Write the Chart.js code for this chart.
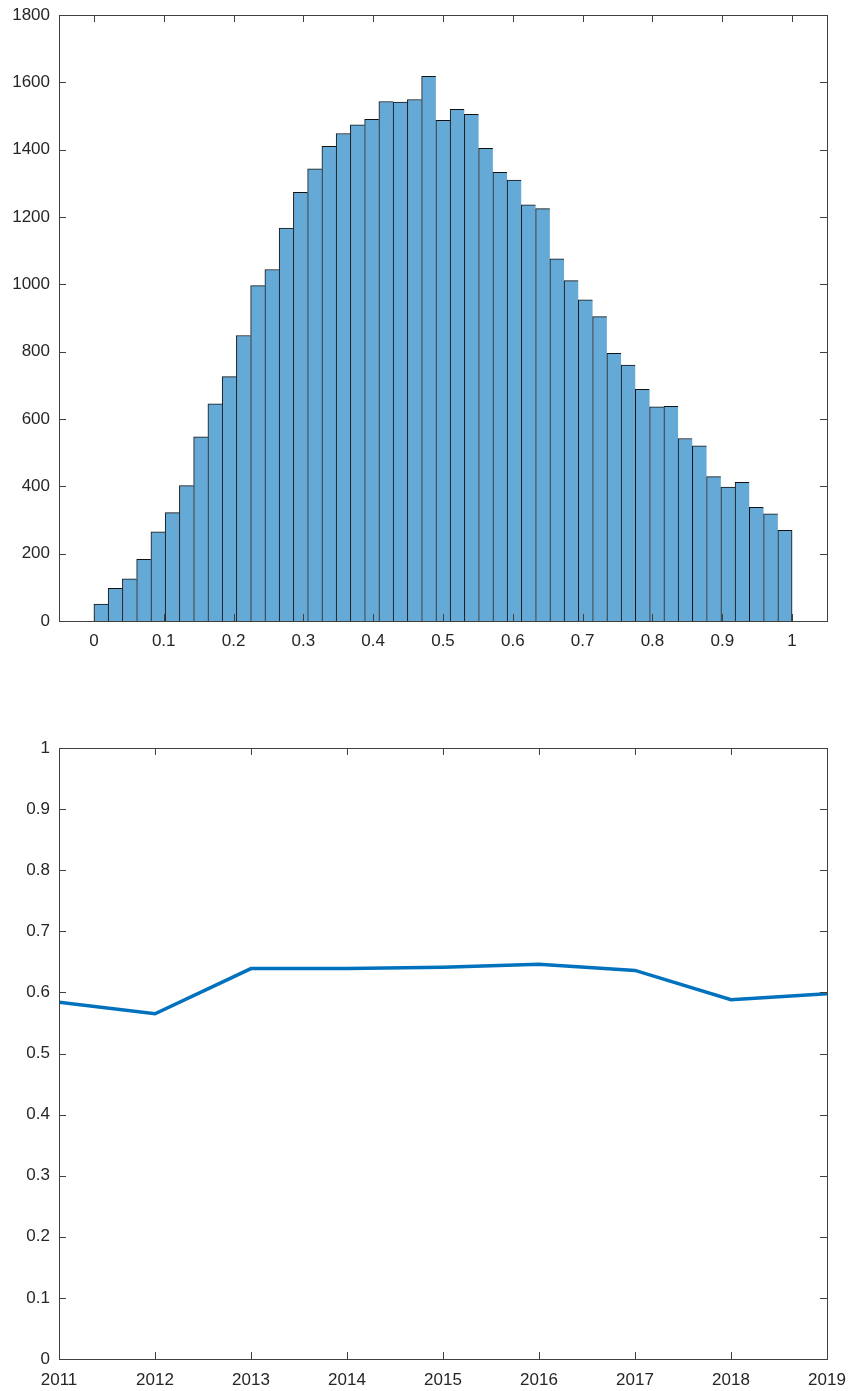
<!DOCTYPE html>
<html>
<head>
<meta charset="utf-8">
<script src="https://cdn.jsdelivr.net/npm/chart.js@4"></script>
<style>
  html, body { margin: 0; padding: 0; background: #fff; }
  .wrap { position: absolute; left: 0; width: 851px; }
  #histWrap { top: 0; height: 690px; }
  #lineWrap { top: 700px; height: 691px; }
</style>
</head>
<body>
<div class="wrap" id="histWrap"><canvas id="histChart"></canvas></div>
<div class="wrap" id="lineWrap"><canvas id="lineChart"></canvas></div>
<script>
// histogram: 49 equal bins between 0 and 1
const histRange = [0, 1];
const histCounts = [
  50, 97, 125, 183, 265, 322, 402, 547, 645, 726,
  848, 996, 1044, 1167, 1273, 1343, 1410, 1448, 1474, 1490,
  1543, 1541, 1549, 1618, 1487, 1520, 1505, 1404, 1333, 1310,
  1236, 1225, 1076, 1011, 954, 904, 795, 760, 688, 636,
  638, 542, 520, 429, 398, 412, 338, 318, 269
];
const histXTicks = [0, 0.1, 0.2, 0.3, 0.4, 0.5, 0.6, 0.7, 0.8, 0.9, 1];
const histYTicks = [0, 200, 400, 600, 800, 1000, 1200, 1400, 1600, 1800];

// yearly series
const years = [2011, 2012, 2013, 2014, 2015, 2016, 2017, 2018, 2019];
const yearValues = [0.584, 0.565, 0.639, 0.639, 0.641, 0.646, 0.636, 0.588, 0.598];
const lineYTicks = [0, 0.1, 0.2, 0.3, 0.4, 0.5, 0.6, 0.7, 0.8, 0.9, 1];

const TEXT = '#262626';
const AXIS = '#404040';
Chart.defaults.font.family = '"Liberation Sans", Arial, Helvetica, sans-serif';
Chart.defaults.font.size = 17;
Chart.defaults.color = TEXT;

// matlab style box with inward ticks on all four sides
const boxPlugin = {
  id: 'box',
  afterDatasetsDraw(chart) {
    const { ctx, chartArea: a, scales } = chart;
    const len = 7;
    ctx.save();
    ctx.strokeStyle = AXIS;
    ctx.lineWidth = 1;
    ctx.beginPath();
    scales.x.ticks.forEach(t => {
      const px = Math.round(scales.x.getPixelForValue(t.value)) + 0.5;
      ctx.moveTo(px, a.bottom); ctx.lineTo(px, a.bottom - len);
      ctx.moveTo(px, a.top);    ctx.lineTo(px, a.top + len);
    });
    scales.y.ticks.forEach(t => {
      const py = Math.round(scales.y.getPixelForValue(t.value)) + 0.5;
      ctx.moveTo(a.left, py);  ctx.lineTo(a.left + len, py);
      ctx.moveTo(a.right, py); ctx.lineTo(a.right - len, py);
    });
    ctx.stroke();
    ctx.strokeRect(Math.round(a.left) + 0.5, Math.round(a.top) + 0.5,
                   Math.round(a.right - a.left), Math.round(a.bottom - a.top));
    ctx.restore();
  }
};

const fixTicks = vals => scale => { scale.ticks = vals.map(v => ({ value: v })); };
const fitX = h => s => { s.height = h; s.paddingLeft = 0; s.paddingRight = 0; };
const fitY = w => s => { s.width = w; s.paddingTop = 0; s.paddingBottom = 0; };
const noGrid = { display: false, drawTicks: false, tickLength: 0 };

// ── Histogram ─────────────────────────────────────────
const binW = (histRange[1] - histRange[0]) / histCounts.length;
new Chart(document.getElementById('histChart'), {
  type: 'bar',
  data: {
    datasets: [{
      data: histCounts.map((c, i) => ({ x: histRange[0] + (i + 0.5) * binW, y: c })),
      backgroundColor: 'rgb(101,169,215)',
      borderColor: '#111',
      borderWidth: ctx => ({ left: 1, top: 1, right: ctx.dataIndex === histCounts.length - 1 ? 1 : 0, bottom: 0 }),
      borderSkipped: false,
      barPercentage: 1,
      categoryPercentage: 1,
    }],
  },
  options: {
    responsive: true, maintainAspectRatio: false, animation: false,
    layout: { padding: { top: 15, right: 24, left: 0, bottom: 0 } },
    plugins: { legend: { display: false }, tooltip: { enabled: false } },
    scales: {
      x: {
        type: 'linear', min: -0.05, max: 1.05, offset: false,
        grid: noGrid, border: { display: false },
        afterBuildTicks: fixTicks(histXTicks),
        afterFit: fitX(69),
        ticks: { padding: 10, maxRotation: 0, autoSkip: false, callback: v => String(v) },
      },
      y: {
        min: 0, max: 1800,
        grid: noGrid, border: { display: false },
        afterBuildTicks: fixTicks(histYTicks),
        afterFit: fitY(59),
        ticks: { padding: 9, callback: v => String(v) },
      },
    },
  },
  plugins: [boxPlugin],
});

// ── Yearly line ───────────────────────────────────────
new Chart(document.getElementById('lineChart'), {
  type: 'line',
  data: {
    datasets: [{
      data: years.map((y, i) => ({ x: y, y: yearValues[i] })),
      borderColor: '#0072BD',
      borderWidth: 3.5,
      pointRadius: 0,
      tension: 0,
      fill: false,
    }],
  },
  options: {
    responsive: true, maintainAspectRatio: false, animation: false,
    layout: { padding: { top: 48, right: 24, left: 0, bottom: 0 } },
    plugins: { legend: { display: false }, tooltip: { enabled: false } },
    scales: {
      x: {
        type: 'linear', min: 2011, max: 2019,
        grid: noGrid, border: { display: false },
        afterBuildTicks: fixTicks(years),
        afterFit: fitX(32),
        ticks: { padding: 11, maxRotation: 0, autoSkip: false, callback: v => String(v) },
      },
      y: {
        min: 0, max: 1,
        grid: noGrid, border: { display: false },
        afterBuildTicks: fixTicks(lineYTicks),
        afterFit: fitY(59),
        ticks: { padding: 9, callback: v => String(v) },
      },
    },
  },
  plugins: [boxPlugin],
});
</script>
</body>
</html>
